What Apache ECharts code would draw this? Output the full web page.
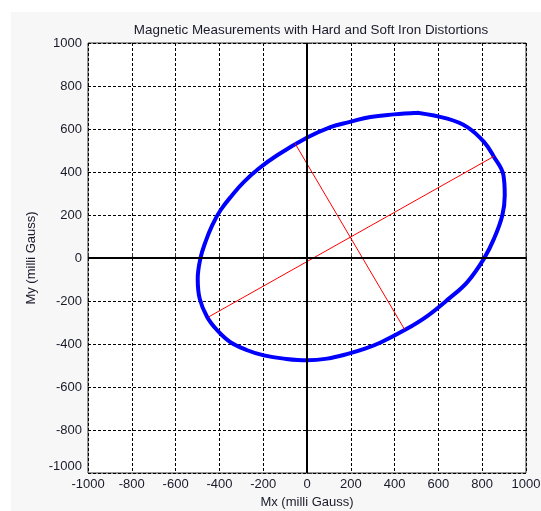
<!DOCTYPE html>
<html>
<head>
<meta charset="utf-8">
<script src="https://cdn.jsdelivr.net/npm/echarts@6/dist/echarts.min.js"></script>
<style>
  html, body { margin: 0; padding: 0; background: #ffffff; }
  #chart { width: 541px; height: 511px; }
</style>
</head>
<body>
<div id="chart"></div>
<script>
// Magnetometer samples (milli Gauss), traced counter-clockwise from the top of the loop
const mxValues = [504, 397, 290, 196, 107, 1, -136, -220, -289, -342, -395, -433, -464, -487, -499, -490, -456, -410, -350, -273, -197, -106, 1, 92, 190, 265, 336, 450, 549, 648, 732, 808, 854, 892, 903, 897, 854, 808, 732, 641, 504];
const myValues = [676, 668, 656, 633, 609, 560, 478, 416, 353, 292, 222, 152, 74, -3, -96, -189, -274, -336, -391, -429, -453, -468, -476, -468, -445, -422, -393, -333, -270, -189, -112, -3, 90, 199, 292, 385, 470, 540, 609, 648, 676];

// Principal axes of the distorted loop (end points)
const majorAxisX = [-449, 854];
const majorAxisY = [-274, 473];
const minorAxisX = [-56, 446];
const minorAxisY = [535, -333];

// Axis range and tick spacing
const axisMin = -1000;
const axisMax = 1000;
const tickStep = 200;

const titleText = 'Magnetic Measurements with Hard and Soft Iron Distortions';
const xName = 'Mx (milli Gauss)';
const yName = 'My (milli Gauss)';

const FONT = '"Liberation Sans", Arial, sans-serif';
const TEXT_COLOR = '#1a1a2a';

const pairs = (xs, ys) => xs.map((x, i) => [x, ys[i]]);

const chart = echarts.init(document.getElementById('chart'), null, { renderer: 'canvas' });

const axisCommon = {
  type: 'value',
  min: axisMin,
  max: axisMax,
  interval: tickStep,
  nameLocation: 'middle',
  nameTextStyle: { color: TEXT_COLOR, fontFamily: FONT, fontSize: 13 },
  axisLine: { show: false },
  axisTick: { show: true, inside: true, length: 5, lineStyle: { color: '#333' } },
  splitLine: { show: true, lineStyle: { color: '#000', width: 1, type: [3, 2] } }
};

chart.setOption({
  animation: false,
  backgroundColor: 'transparent',
  graphic: [{
    type: 'rect',
    z: -10,
    shape: { x: 11, y: 12, width: 530, height: 499 },
    style: { fill: '#f7f7f7' },
    silent: true
  }],
  title: {
    text: titleText,
    left: 306,
    top: 19,
    textAlign: 'center',
    textStyle: { color: TEXT_COLOR, fontFamily: FONT, fontSize: 13.4, fontWeight: 'normal' }
  },
  grid: {
    left: 88,
    top: 43,
    width: 438,
    height: 430,
    outerBoundsMode: 'none',
    containLabel: false,
    show: true,
    backgroundColor: '#ffffff',
    borderColor: '#333',
    borderWidth: 1
  },
  xAxis: Object.assign({}, axisCommon, {
    name: xName,
    nameGap: 23,
    axisLabel: { color: TEXT_COLOR, fontFamily: FONT, fontSize: 13, margin: 5, formatter: v => String(v) }
  }),
  yAxis: Object.assign({}, axisCommon, {
    name: yName,
    nameGap: 46,
    axisLabel: {
      color: TEXT_COLOR, fontFamily: FONT, fontSize: 13, margin: 6,
      formatter: v => v === axisMin ? '{low|' + v + '}' : String(v),
      rich: { low: { color: TEXT_COLOR, fontFamily: FONT, fontSize: 13, padding: [0, 0, 14, 0] } }
    }
  }),
  series: [
    {
      // solid zero axes through the origin
      type: 'line',
      data: [],
      silent: true,
      markLine: {
        silent: true,
        symbol: 'none',
        label: { show: false },
        lineStyle: { color: '#000', width: 2, type: 'solid' },
        data: [{ yAxis: 0 }, { xAxis: 0 }]
      }
    },
    {
      name: 'samples',
      type: 'line',
      data: pairs(mxValues, myValues),
      smooth: 0.4,
      showSymbol: false,
      lineStyle: { color: '#0000ff', width: 4, join: 'round', cap: 'round' },
      z: 3
    },
    {
      name: 'major axis',
      type: 'line',
      data: pairs(majorAxisX, majorAxisY),
      showSymbol: false,
      lineStyle: { color: '#ff0000', width: 1 },
      z: 4
    },
    {
      name: 'minor axis',
      type: 'line',
      data: pairs(minorAxisX, minorAxisY),
      showSymbol: false,
      lineStyle: { color: '#ff0000', width: 1 },
      z: 4
    }
  ]
});
</script>
</body>
</html>
